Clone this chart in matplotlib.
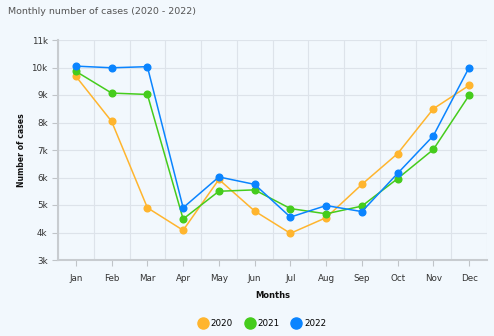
import matplotlib
matplotlib.use("Agg")
import matplotlib.pyplot as plt
from matplotlib.lines import Line2D
import numpy as np

months = ["Jan", "Feb", "Mar", "Apr", "May", "Jun", "Jul", "Aug", "Sep", "Oct", "Nov", "Dec"]
cases_2020 = [9680, 8040, 4900, 4080, 5930, 4780, 3970, 4540, 5750, 6870, 8500, 9350]
cases_2021 = [9860, 9070, 9020, 4490, 5500, 5550, 4870, 4680, 4960, 5960, 7020, 8990]
cases_2022 = [10050, 9990, 10030, 4900, 6020, 5750, 4560, 4980, 4760, 6150, 7520, 10000]
series_names = ["2020", "2021", "2022"]
colors = ["#FFB52E", "#45CC1C", "#0A84FF"]
y_ticks = [3000, 4000, 5000, 6000, 7000, 8000, 9000, 10000, 11000]
y_tick_labels = ["3k", "4k", "5k", "6k", "7k", "8k", "9k", "10k", "11k"]

W, H = 494, 336
bg = "#F2F8FD"
fig = plt.figure(figsize=(W / 100, H / 100), dpi=100, facecolor=bg)
ax = fig.add_axes([58 / W, 1 - 260 / H, (487 - 58) / W, (260 - 40) / H], facecolor=bg)

x = np.arange(len(months))
for vals, c in zip([cases_2020, cases_2021, cases_2022], colors):
    ax.plot(x, vals, color=c, lw=1.1, marker="o", ms=4.8, zorder=3)

ax.set_xlim(-0.5, len(months) - 0.5)
ax.set_ylim(3000, 11000)
ax.set_yticks(y_ticks)
ax.set_yticklabels(y_tick_labels)
ax.set_xticks(x)
ax.set_xticklabels(months)
ax.set_xticks(np.arange(-0.5, len(months), 1), minor=True)

ax.grid(True, axis="y", color="#DDE3EA", lw=0.8)
ax.grid(True, axis="x", which="minor", color="#DDE3EA", lw=0.8)
ax.tick_params(axis="x", which="minor", length=0)
ax.tick_params(axis="both", which="major", labelsize=6.3, colors="#C0C4C8", labelcolor="#333333", length=4, width=0.8)
ax.tick_params(axis="x", pad=6)
for s in ["top", "right"]:
    ax.spines[s].set_visible(False)
for s in ["left", "bottom"]:
    ax.spines[s].set_color("#C8CCD0")
    ax.spines[s].set_linewidth(1.5)

ax.set_ylabel("Number of cases", fontsize=5.6, fontweight="bold", color="#111111", labelpad=4)
ax.set_xlabel("Months", fontsize=6, fontweight="bold", color="#111111", labelpad=6)

fig.text(8 / W, 1 - 12 / H, "Monthly number of cases (2020 - 2022)", fontsize=6.8, color="#555555", va="center", ha="left")

handles = [Line2D([], [], ls="none", marker="o", ms=8, color=c) for c in colors]
fig.legend(handles, series_names, loc="center", bbox_to_anchor=(262 / W, 1 - 324 / H), ncol=3,
           frameon=False, fontsize=6.3, handletextpad=0.3, columnspacing=1.3, handlelength=1.2)

fig.savefig("out.png", dpi=100, facecolor=bg)
